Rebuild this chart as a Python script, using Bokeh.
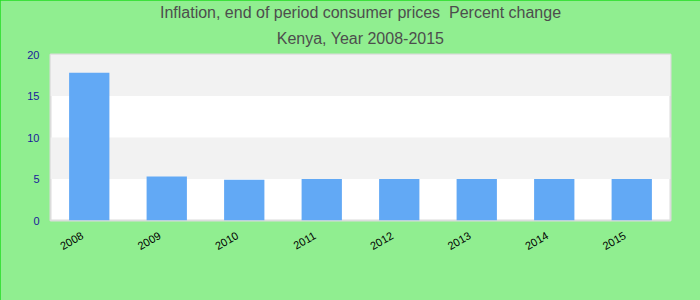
import math
from bokeh.plotting import figure
from bokeh.models import Title, SingleIntervalTicker, Range1d, LinearAxis, FixedTicker
from bokeh.embed import file_html
from bokeh.resources import INLINE

years = ["2008", "2009", "2010", "2011", "2012", "2013", "2014", "2015"]
values = [17.8, 5.3, 4.9, 5.0, 5.0, 5.0, 5.0, 5.0]
title_line1 = "Inflation, end of period consumer prices \u00a0Percent change"
title_line2 = "Kenya, Year 2008-2015"

BG = "#90ee90"
FONT = "Liberation Sans"

n = len(years)
centers = [i + 0.5 for i in range(n)]  # category centres on an index scale

p = figure(width=700, height=300, x_range=Range1d(0, n), y_range=(0, 20),
           output_backend="svg", toolbar_location=None,
           min_border_left=50, min_border_right=30, min_border_top=54, min_border_bottom=80)
p.title = None
p.background_fill_color = "white"
p.border_fill_color = BG
p.outline_line_color = "#dcdcdc"
p.outline_line_width = 2
p.styles = {"outline": "1px solid #22dd22", "outline-offset": "-1px"}

p.vbar(x=centers, top=values, width=0.52, color="#62a9f5", line_color=None)

p.xgrid.grid_line_color = None
p.ygrid.grid_line_color = None
p.ygrid.band_fill_color = "#f2f2f2"
p.ygrid.band_fill_alpha = 1

p.yaxis.ticker = SingleIntervalTicker(interval=5)
p.yaxis.axis_line_color = None
p.yaxis.major_tick_line_color = None
p.yaxis.minor_tick_line_color = None
p.yaxis.major_label_text_color = "#1a1a9a"
p.yaxis.major_label_text_font = FONT
p.yaxis.major_label_text_font_size = "11px"
p.yaxis.major_label_standoff = 5

# year labels on a slightly shifted copy of the index scale
p.xaxis.visible = False
shift = 0.09
p.extra_x_ranges = {"lbl": Range1d(start=shift, end=n + shift)}
lab_axis = LinearAxis(x_range_name="lbl", ticker=FixedTicker(ticks=centers),
                      major_label_overrides={c: y for c, y in zip(centers, years)})
lab_axis.axis_line_color = None
lab_axis.major_tick_line_color = None
lab_axis.minor_tick_line_color = None
lab_axis.major_label_orientation = math.pi / 6
lab_axis.major_label_text_color = "black"
lab_axis.major_label_text_font = FONT
lab_axis.major_label_text_font_size = "11px"
lab_axis.major_label_standoff = 8
p.add_layout(lab_axis, "below")

t2 = Title(text=title_line2, align="center", text_font=FONT, text_font_size="16px",
           text_font_style="normal", text_color="#4d4d4d", text_line_height=0.8,
           standoff=15, offset=-11)
t1 = Title(text=title_line1, align="center", text_font=FONT, text_font_size="16px",
           text_font_style="normal", text_color="#4d4d4d", standoff=0, offset=-11)
p.add_layout(t2, "above")
p.add_layout(t1, "above")

open("out.html", "w").write(file_html(p, INLINE))
